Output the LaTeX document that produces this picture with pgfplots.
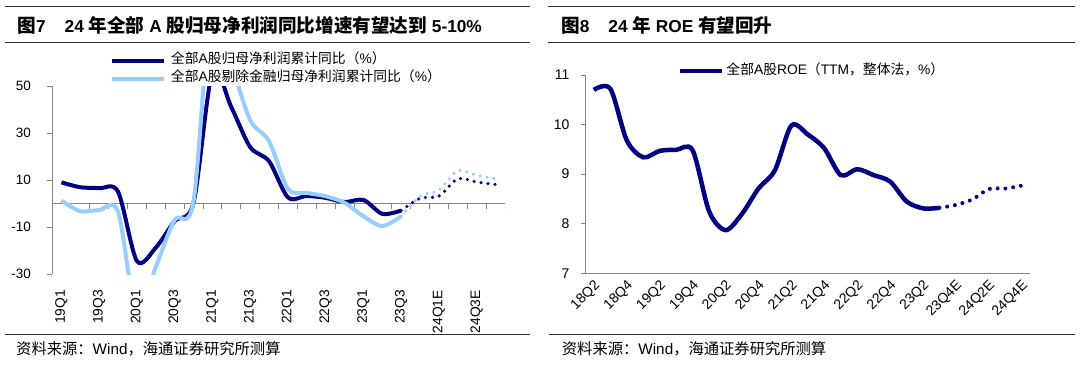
\documentclass[border=0pt]{standalone}
\usepackage{pgfplots}
\usepackage{pgfplotstable}
\pgfplotsset{compat=1.18}
\usepackage{fontspec}
\setmainfont{Liberation Sans}
\newfontfamily\cjk{Noto Sans CJK SC}
\newcommand\C[1]{{\cjk #1}}
\newcommand\Ct[1]{{\fontsize{18.6}{20}\selectfont\cjk #1}}
\definecolor{navy}{RGB}{0,0,128}
\definecolor{lblue}{RGB}{153,204,255}
\definecolor{axgray}{RGB}{134,134,134}
\definecolor{rulec}{RGB}{50,50,50}

\pgfplotstableread{
x y
0 9.0
1 6.9
2 6.5
3 5.0
4 -24.5
5 -18.8
6 -7.5
7 0.4
8 56
9 41
10 24
11 18
12 2.6
13 3.2
14 2.4
15 0.6
16 1.5
17 -4.4
18 -3.0
}\allA
\pgfplotstableread{
x y
18 -3.0
19 2.2
20 3.2
21 10.5
22 9.1
23 8.1
}\allAE
\pgfplotstableread{
x y
0 1.2
1 -3.3
2 -2.8
3 -3.5
4 -48
5 -27
6 -7
7 1.0
8 90
9 60
10 35.5
11 26.5
12 6.2
13 4.5
14 3.1
15 0.3
16 -5.4
17 -9.6
18 -5.4
}\nonfin
\pgfplotstableread{
x y
18 -5.4
19 3.1
20 5.7
21 14.0
22 12.0
23 10.5
}\nonfinE
\pgfplotstableread{
x y
0 10.70
1 10.72
2 9.68
3 9.34
4 9.47
5 9.49
6 9.48
7 8.25
8 7.87
9 8.20
10 8.71
11 9.08
12 9.98
13 9.80
14 9.52
15 8.98
16 9.10
17 8.98
18 8.85
19 8.45
20 8.31
21 8.32
}\roe
\pgfplotstableread{
x y
21 8.32
22 8.38
23 8.49
24 8.70
25 8.71
26 8.77
}\roeE

\begin{document}
\begin{tikzpicture}
\useasboundingbox (0,0) rectangle (1080pt,365pt);
% rules
\draw[rulec, line width=1.5pt] (5pt,358.3pt) -- (530pt,358.3pt);
\draw[rulec, line width=1.5pt] (5pt,322.7pt) -- (530pt,322.7pt);
\draw[rulec, line width=1.5pt] (547.7pt,358.3pt) -- (1075pt,358.3pt);
\draw[rulec, line width=1.5pt] (547.7pt,322.7pt) -- (1075pt,322.7pt);
\draw[rulec, line width=1.5pt] (5pt,30.7pt) -- (530pt,30.7pt);
\draw[rulec, line width=1.5pt] (549pt,30.7pt) -- (1075pt,30.7pt);
% titles
\node[anchor=base west, inner sep=0pt, font=\bfseries\fontsize{17.3}{20}\selectfont] at (17.3pt,332.7pt)
  {\Ct{图}7\hspace{19pt}24 \Ct{年全部} A \Ct{股归母净利润同比增速有望达到} 5-10\%};
\node[anchor=base west, inner sep=0pt, font=\bfseries\fontsize{17.3}{20}\selectfont] at (561pt,332.7pt)
  {\Ct{图}8\hspace{19pt}24 \Ct{年} ROE \Ct{有望回升}};
% footnotes
\node[anchor=base west, inner sep=0pt, font=\fontsize{15.3}{17}\selectfont] at (16pt,10.5pt)
  {\C{资料来源：}Wind\C{，海通证券研究所测算}};
\node[anchor=base west, inner sep=0pt, font=\fontsize{15.3}{17}\selectfont] at (561.7pt,10.5pt)
  {\C{资料来源：}Wind\C{，海通证券研究所测算}};

% ---------- left chart ----------
\begin{axis}[
  at={(52pt,91pt)}, anchor=south west, scale only axis,
  width=453pt, height=188pt,
  xmin=-0.5, xmax=23.5, ymin=-30, ymax=50,
  axis lines*=left,
  x axis line style={draw=none},
  y axis line style={draw=axgray, line width=1pt},
  ytick={-30,-10,10,30,50},
  xtick={0,2,...,22},
  xticklabels={19Q1,19Q3,20Q1,20Q3,21Q1,21Q3,22Q1,22Q3,23Q1,23Q3,24Q1E,24Q3E},
  tick align=outside, major tick length=5pt,
  xtick style={draw=none},
  ytick style={draw=axgray, line width=1pt},
  /pgf/number format/assume math mode=true,
  xticklabel style={rotate=90, anchor=east, inner sep=0pt, font=\fontsize{13.8}{14}\selectfont},
  yticklabel style={anchor=east, inner sep=0pt, font=\fontsize{13.5}{14}\selectfont},
  xticklabel shift=11pt,
  yticklabel shift=16pt,
  legend cell align=left,
  legend style={at={(0.128,1.171)}, anchor=north west, draw=none, fill=none,
    inner sep=0pt, outer sep=0pt, row sep=4.6pt, column sep=5pt,
    nodes={inner sep=0pt, text height=10pt, text depth=3.5pt, font=\fontsize{13.8}{16}\selectfont}},
  legend image code/.code={\draw[#1, line width=4pt] (0pt,0pt) -- (52pt,0pt);},
]
\draw[axgray, line width=1pt] (axis cs:-0.5,0) -- (axis cs:23.5,0);
\pgfplotsinvokeforeach{-0.5,0.5,1.5,2.5,3.5,4.5,5.5,6.5,7.5,8.5,9.5,10.5,11.5,12.5,13.5,14.5,15.5,16.5,17.5,18.5,19.5,20.5,21.5,22.5,23.5}{
  \draw[axgray, line width=1pt] (axis cs:#1,0) -- ++(0pt,-5pt);
}
\addplot[navy, line width=4pt, smooth, no marks] table {\allA};
\addlegendentry{\C{全部}A\C{股归母净利润累计同比（}\%\C{）}}
\addplot[lblue, line width=4pt, smooth, no marks] table {\nonfin};
\addlegendentry{\C{全部}A\C{股剔除金融归母净利润累计同比（}\%\C{）}}
\addplot[navy, line width=3.5pt, smooth, no marks, line cap=round, dash pattern=on 0pt off 7pt, forget plot] table {\allAE};
\addplot[lblue, line width=3.5pt, smooth, no marks, line cap=round, dash pattern=on 0pt off 7pt, forget plot] table {\nonfinE};
\end{axis}

% ---------- right chart ----------
\begin{axis}[
  at={(585.7pt,91.7pt)}, anchor=south west, scale only axis,
  width=444.3pt, height=198.3pt,
  xmin=-0.5, xmax=26.5, ymin=7, ymax=11,
  axis lines*=left,
  axis line style={draw=axgray, line width=1pt},
  ytick={7,8,9,10,11},
  xtick={0,2,...,26},
  xticklabels={18Q2,18Q4,19Q2,19Q4,20Q2,20Q4,21Q2,21Q4,22Q2,22Q4,23Q2,23Q4E,24Q2E,24Q4E},
  xtick style={draw=none},
  xticklabel style={xshift=4pt, rotate=45, anchor=east, inner sep=0pt, font=\fontsize{14}{14}\selectfont},
  tick align=outside, major tick length=5pt,
  ytick style={draw=axgray, line width=1pt},
  /pgf/number format/assume math mode=true,
  yticklabel style={anchor=east, inner sep=0pt, font=\fontsize{14}{14}\selectfont},
  xticklabel shift=5pt,
  yticklabel shift=11pt,
  legend cell align=left,
  legend style={at={(0.2077,1.0545)}, anchor=north west, draw=none, fill=none,
    inner sep=0pt, outer sep=0pt, column sep=2pt,
    nodes={inner sep=0pt, text height=10pt, text depth=3.5pt, font=\fontsize{13.8}{16}\selectfont}},
  legend image code/.code={\draw[#1, line width=4.5pt] (0pt,0pt) -- (42pt,0pt);},
]
\pgfplotsinvokeforeach{-0.5,0.5,1.5,2.5,3.5,4.5,5.5,6.5,7.5,8.5,9.5,10.5,11.5,12.5,13.5,14.5,15.5,16.5,17.5,18.5,19.5,20.5,21.5,22.5,23.5,24.5,25.5,26.5}{
  \draw[axgray, line width=1pt] (axis cs:#1,7) -- ++(0pt,-5pt);
}
\addplot[navy, line width=4.5pt, smooth, no marks] table {\roe};
\addlegendentry{\C{全部}A\C{股}ROE\C{（}TTM\C{，整体法，}\%\C{）}}
\addplot[navy, line width=4pt, smooth, no marks, line cap=round, dash pattern=on 0pt off 7.8pt, forget plot] table {\roeE};
\end{axis}
\end{tikzpicture}
\end{document}
